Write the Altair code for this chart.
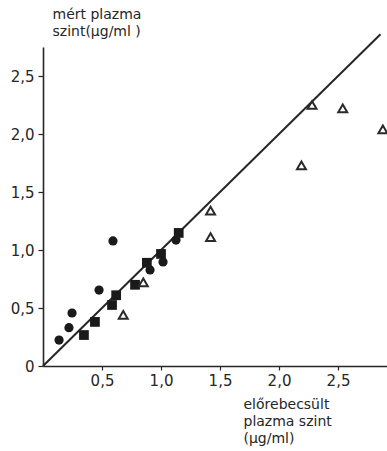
import altair as alt
import pandas as pd

# Measured vs. predicted plasma levels (µg/ml), three patient groups
circle_pred = [0.136, 0.22, 0.246, 0.475, 0.593, 0.907, 1.017, 1.127]
circle_meas = [0.224, 0.33, 0.457, 0.655, 1.078, 0.828, 0.897, 1.086]

square_pred = [0.347, 0.44, 0.585, 0.62, 0.78, 0.88, 1.0, 1.15]
square_meas = [0.267, 0.38, 0.526, 0.61, 0.70, 0.89, 0.966, 1.147]

triangle_pred = [0.68, 0.85, 1.42, 1.42, 2.19, 2.28, 2.54, 2.88]
triangle_meas = [0.44, 0.72, 1.34, 1.11, 1.73, 2.25, 2.22, 2.04]

# identity line (measured = predicted)
identity = [0.0, 2.86]

x_ticks = [0.5, 1.0, 1.5, 2.0, 2.5]
y_ticks = [0.0, 0.5, 1.0, 1.5, 2.0, 2.5]

FONT = "DejaVu Sans"
INK = "#262626"

label_expr = "datum.value == 0 ? '0' : replace(format(datum.value, '.1f'), '.', ',')"

x_scale = alt.Scale(domain=[0, 2.915], nice=False, zero=True)
y_scale = alt.Scale(domain=[0, 2.75], nice=False, zero=True)

x_axis = alt.Axis(
    values=x_ticks, labelExpr=label_expr, grid=False,
    domainColor=INK, domainWidth=1.6, tickColor=INK, tickSize=4, tickWidth=1.2,
    labelFont=FONT, labelFontSize=15, labelColor=INK, labelPadding=3,
    title=["előrebecsült", "plazma szint", "(µg/ml)"],
    titleFont=FONT, titleFontSize=14, titleFontWeight="normal", titleColor=INK,
    titleAngle=0, titleAlign="left", titleBaseline="top",
    titleX=200, titleY=31, titleLineHeight=17,
)
y_axis = alt.Axis(
    values=y_ticks, labelExpr=label_expr, grid=False,
    domainColor=INK, domainWidth=1.6, tickColor=INK, tickSize=5, tickWidth=1.2,
    labelFont=FONT, labelFontSize=15, labelColor=INK, labelPadding=4,
    title=["mért plazma", "szint(µg/ml )"],
    titleFont=FONT, titleFontSize=14, titleFontWeight="normal", titleColor=INK,
    titleAngle=0, titleAlign="left", titleBaseline="top",
    titleX=9, titleY=-40, titleLineHeight=17,
)

line_df = pd.DataFrame({"pred": identity, "meas": identity})
circles = pd.DataFrame({"pred": circle_pred, "meas": circle_meas})
squares = pd.DataFrame({"pred": square_pred, "meas": square_meas})
triangles = pd.DataFrame({"pred": triangle_pred, "meas": triangle_meas})

line = alt.Chart(line_df).mark_line(color=INK, strokeWidth=2).encode(
    x=alt.X("pred:Q", scale=x_scale, axis=x_axis),
    y=alt.Y("meas:Q", scale=y_scale, axis=y_axis),
)

circle_pts = alt.Chart(circles).mark_point(
    shape="circle", filled=True, color="#1a1a1a", size=85, opacity=1
).encode(x="pred:Q", y="meas:Q")

square_pts = alt.Chart(squares).mark_point(
    shape="square", filled=True, color="#1a1a1a", size=95, opacity=1
).encode(x="pred:Q", y="meas:Q")

triangle_pts = alt.Chart(triangles).mark_point(
    shape="triangle-up", filled=False, color="#2a2a2a", size=80, strokeWidth=2, opacity=1
).encode(x="pred:Q", y="meas:Q")

chart = (
    alt.layer(line, circle_pts, square_pts, triangle_pts)
    .properties(
        width=344, height=319,
        autosize=alt.AutoSizeParams(type="none"),
        padding={"left": 43, "top": 47, "right": 0, "bottom": 85},
        background="white",
    )
    .configure_view(stroke=None)
)

chart.save("out.html", embed_options={"renderer": "svg", "actions": False})
